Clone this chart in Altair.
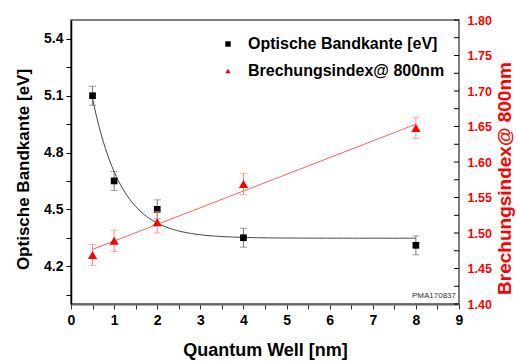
import numpy as np
import pandas as pd
import altair as alt

# Quantum-well thickness [nm]
qw = [0.5, 1, 2, 4, 8]
# Optical band edge [eV] with error
bandkante = [5.10, 4.65, 4.50, 4.35, 4.31]
bandkante_err = [0.05, 0.05, 0.05, 0.05, 0.05]
# Refractive index at 800 nm with error
brechungsindex = [1.469, 1.489, 1.515, 1.569, 1.648]
brechungsindex_err = [0.015, 0.015, 0.015, 0.015, 0.015]

series_names = ["Optische Bandkante [eV]", "Brechungsindex@ 800nm"]
stamp_text = "PMA170837"

x_ticks = [i * 0.5 for i in range(19)]
left_ticks = [round(4.05 + 0.15 * i, 2) for i in range(10)]
right_ticks = [round(1.40 + 0.025 * i, 3) for i in range(17)]

FONT = "Liberation Sans"
W, H = 388, 284

# Exponential decay fit y = y0 + A*exp(-x/t): grid over t, linear least squares for y0, A
xa = np.array(qw, dtype=float)
ya = np.array(bandkante, dtype=float)
best = None
for t in np.linspace(0.2, 3.0, 561):
    M = np.column_stack([np.ones_like(xa), np.exp(-xa / t)])
    coef, *_ = np.linalg.lstsq(M, ya, rcond=None)
    sse = float(((M @ coef - ya) ** 2).sum())
    if best is None or sse < best[0]:
        best = (sse, t, coef)
_, t_fit, (y0_fit, a_fit) = best
x_curve = np.linspace(min(qw), max(qw), 151)
fit_df = pd.DataFrame({"qw": x_curve, "fit": y0_fit + a_fit * np.exp(-x_curve / t_fit)})

band_df = pd.DataFrame({
    "qw": qw,
    "val": bandkante,
    "lo": [v - e for v, e in zip(bandkante, bandkante_err)],
    "hi": [v + e for v, e in zip(bandkante, bandkante_err)],
    "serie": series_names[0],
})
idx_df = pd.DataFrame({
    "qw": qw,
    "val": brechungsindex,
    "lo": [v - e for v, e in zip(brechungsindex, brechungsindex_err)],
    "hi": [v + e for v, e in zip(brechungsindex, brechungsindex_err)],
    "serie": series_names[1],
})
right_tick_df = pd.DataFrame({"v": right_ticks})

x_axis = alt.Axis(
    title="Quantum Well [nm]", values=x_ticks,
    labelExpr="datum.value % 1 == 0 ? format(datum.value, 'd') : ''",
    labelFlush=False, labelOverlap=False, labelFontSize=14, labelPadding=4,
    tickSize=5, tickColor="#333", domainColor="#666", domainWidth=2,
    titleFontSize=18, titleX=194, titleY=51, titleAlign="center",
    titleBaseline="alphabetic",
)
x_enc = alt.X("qw:Q", scale=alt.Scale(domain=[0, 9], nice=False), axis=x_axis)

left_scale = alt.Scale(domain=[4.0, 5.5], nice=False, zero=False)
left_axis = alt.Axis(
    orient="left", title=series_names[0], values=left_ticks,
    labelExpr="round(datum.value * 100) % 30 == 0 ? format(datum.value, '.1f') : ''",
    labelFlush=False, labelOverlap=False, labelFontSize=14, labelPadding=3,
    tickSize=5, tickColor="black", domainColor="black", domainWidth=1.5,
    titleFontSize=17, titleX=-43, titleY=149, titleAngle=270,
    titleAlign="center", titleBaseline="alphabetic",
)

# Right axis: labels and title only; its inward ticks are drawn by a rule layer
right_scale = alt.Scale(domain=[1.40, 1.80], nice=False, zero=False)
right_axis = alt.Axis(
    orient="right", title=series_names[1], values=right_ticks,
    labelExpr="round(datum.value * 1000) % 50 == 0 ? format(datum.value, '.2f') : ''",
    labelFlush=False, labelOverlap=False, labelFontSize=12.5, labelPadding=8,
    labelColor="red", titleColor="red", domain=False, ticks=False,
    titleFontSize=19, titleX=51, titleY=158, titleAngle=270,
    titleAlign="center", titleBaseline="alphabetic",
)


def left_y(field):
    return alt.Y(f"{field}:Q", scale=left_scale, axis=left_axis)


def right_y(field):
    return alt.Y(f"{field}:Q", scale=right_scale, axis=right_axis)


color_enc = alt.Color("serie:N", scale=alt.Scale(domain=series_names, range=["black", "red"]),
                      legend=alt.Legend(title=None))
shape_enc = alt.Shape("serie:N", scale=alt.Scale(domain=series_names, range=["square", "triangle-up"]),
                      legend=alt.Legend(title=None))

# Band edge: decay fit, error bars, squares
band_fit = alt.Chart(fit_df).mark_line(color="#444", strokeWidth=1).encode(x=x_enc, y=left_y("fit"))
band_err = alt.Chart(band_df).mark_errorbar(ticks={"size": 7}, color="#777", thickness=1).encode(
    x=x_enc, y=left_y("lo"), y2="hi")
band_pts = alt.Chart(band_df).mark_point(filled=True, size=45, opacity=1).encode(
    x=x_enc, y=left_y("val"), color=color_enc, shape=shape_enc)
band_layer = alt.layer(band_fit, band_err, band_pts)

# Refractive index: linear regression, error bars, triangles, inward axis ticks
idx_ticks = alt.Chart(right_tick_df).mark_rule(color="black", strokeWidth=1).encode(
    y=right_y("v"), x=alt.value(W - 5), x2=alt.value(W))
idx_fit = alt.Chart(idx_df).transform_regression("qw", "val").mark_line(
    color="#ff6060", strokeWidth=1).encode(x=x_enc, y=right_y("val"))
idx_err = alt.Chart(idx_df).mark_errorbar(ticks={"size": 7}, color="#ff8888", thickness=1).encode(
    x=x_enc, y=right_y("lo"), y2="hi")
idx_pts = alt.Chart(idx_df).mark_point(filled=True, size=85, opacity=1).encode(
    x=x_enc, y=right_y("val"), color=color_enc, shape=shape_enc)
idx_layer = alt.layer(idx_ticks, idx_fit, idx_err, idx_pts)

stamp = alt.Chart(pd.DataFrame({"t": [stamp_text]})).mark_text(
    align="right", baseline="alphabetic", fontSize=8, font=FONT, color="#333"
).encode(x=alt.value(385), y=alt.value(278), text="t:N")

chart = alt.layer(band_layer, idx_layer, stamp).resolve_scale(
    y="independent"
).properties(
    width=W, height=H,
    padding={"left": 71, "top": 20, "right": 58, "bottom": 57},
    autosize=alt.AutoSizeParams(type="none"),
    background="white",
).configure_view(
    stroke="#555", strokeWidth=1.5
).configure_axis(
    grid=False, labelFont=FONT, titleFont=FONT,
    labelFontWeight="bold", titleFontWeight="bold", labelColor="black", titleColor="black",
).configure_legend(
    orient="none", legendX=149, legendY=16, padding=0,
    labelFont=FONT, labelFontSize=16, labelFontWeight="bold", labelColor="black",
    labelLimit=400, symbolSize=30, rowPadding=11, labelOffset=12,
)

chart.save("out.html", embed_options={"renderer": "svg", "actions": False})
